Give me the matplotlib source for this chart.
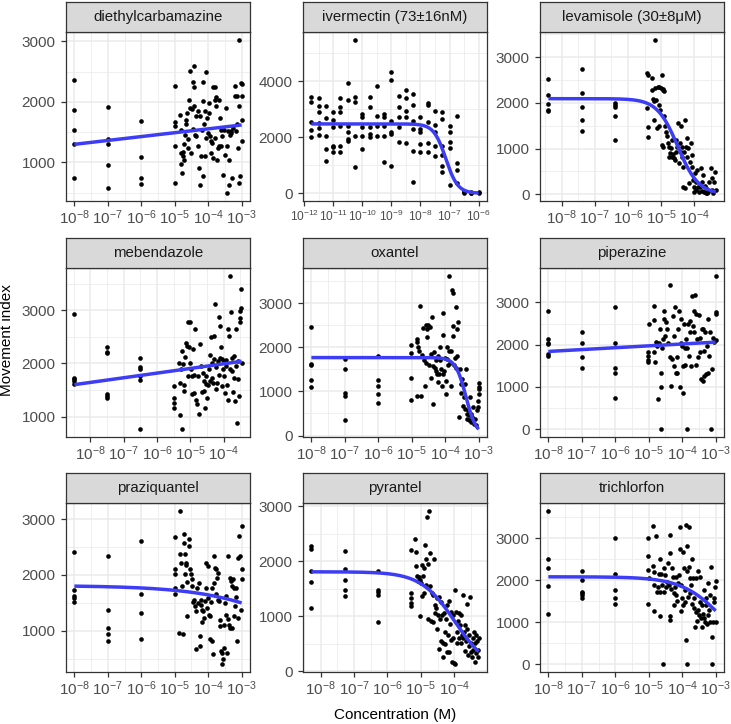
"""Dose-response facets: movement index vs concentration, nine drugs."""

import numpy as np
import matplotlib
matplotlib.use("Agg")
import matplotlib.pyplot as plt

plt.rcParams["font.family"] = ["Liberation Sans", "DejaVu Sans"]
plt.rcParams["mathtext.fontset"] = "custom"
plt.rcParams["mathtext.rm"] = "Liberation Sans"
plt.rcParams["mathtext.it"] = "Liberation Sans:italic"
plt.rcParams["mathtext.bf"] = "Liberation Sans:bold"

# ── Theme ──────────────────────────────────────────────────────────────────────
BORDER = "#333333"
GRID   = "#EBEBEB"
STRIP  = "#D9D9D9"
TICK   = "#4D4D4D"
FIT    = "#3D3DF5"

# ── Data (x = log10 concentration in M, y = movement index) ───────────────────
dec_x = ([-8] * 5 + [-7] * 5 + [-6] * 4 + [-5] * 5 + [
    -4.83, -4.81, -4.81, -4.81, -4.79, -4.76, -4.75, -4.73, -4.71, -4.69,
    -4.65, -4.65, -4.63, -4.61, -4.59, -4.56, -4.55, -4.53, -4.51, -4.49,
    -4.46, -4.45, -4.43, -4.43, -4.41, -4.39, -4.37, -4.36, -4.31, -4.29,
    -4.26, -4.24, -4.23, -4.21, -4.19, -4.16, -4.16, -4.15, -4.13, -4.11,
    -4.09, -4.07, -4.06, -4.05, -4.01, -3.99, -3.97, -3.96, -3.93, -3.91,
    -3.88, -3.86, -3.85, -3.81, -3.81, -3.79, -3.77, -3.76, -3.73, -3.71,
    -3.69, -3.67, -3.66, -3.63, -3.61, -3.58, -3.57, -3.53, -3.51, -3.47,
    -3.45, -3.43, -3.41, -3.39, -3.37, -3.35, -3.33, -3.31, -3.29, -3.26,
    -3.21, -3.19, -3.17, -3.15, -3.13, -3.11, -3.09, -3.09, -3.07, -3.05,
    -3.01, -3.00, -3.00, -3.00, -3.00])
dec_y = [2360, 1860, 1530, 1300, 750, 1910, 1380, 1310, 950, 570,
         1690, 1090, 740, 640, 2260, 1670, 1610, 1270, 660,
         1780, 1530, 1160, 980, 820, 1170, 1100, 1040, 1310, 1460,
         1700, 1640, 1820, 1380, 1240, 2040, 1900, 2510, 1160, 1880,
         1550, 2330, 2600, 2240, 1940, 1460, 1770, 1440, 1850, 1270,
         910, 630, 1770, 1110, 1530, 2330, 2010, 770, 1630, 1850,
         1110, 1400, 2500, 1740, 1490, 1820, 1990, 1430, 1160, 1350,
         1320, 1070, 2250, 2240, 2040, 1400, 2090, 1930, 1040, 1240,
         2040, 1270, 1740, 1540, 1270, 1430, 800, 1540, 1130, 1900,
         490, 1270, 1520, 1040, 630, 1460, 1490, 1520, 740, 1570,
         2260, 2100, 1520, 2100, 1630, 1240, 660, 3030, 1940, 770,
         2320, 2290, 2100, 1700, 1360]

ivm_x = ([-11.75] * 5 + [-11.5] * 6 + [-11.25] * 5 + [-11.0] * 6 + [-10.75] * 6
         + [-10.5] * 6 + [-10.25] * 5 + [-10.0] * 5 + [-9.75] * 5 + [-9.5] * 4
         + [-9.25] * 5 + [-9.0] * 6 + [-8.75] * 5 + [-8.5] * 5 + [-8.25] * 6
         + [-8.0] * 5 + [-7.75] * 5 + [-7.5] * 5 + [-7.25] * 6 + [-7.0] * 5
         + [-6.75] * 4 + [-6.5] * 3 + [-6.25] * 3 + [-6.0] * 2)
ivm_y = [3450, 3260, 2560, 2260, 2000,
         3420, 3130, 2920, 2500, 2320, 2090,
         3130, 2680, 2060, 1580, 1170,
         2920, 2620, 2380, 1700, 1640, 1460,
         3420, 3070, 2920, 2420, 1700, 1460,
         3940, 3340, 2420, 2180, 1940, 1880,
         5490, 3430, 3280, 2060, 930,
         2830, 2710, 2360, 2060, 1580,
         3430, 3070, 2360, 2120, 2000,
         3820, 2750, 2420, 2060,
         2830, 2710, 2420, 2060, 1130,
         4340, 4060, 2590, 2200, 2120, 990,
         3460, 3070, 2710, 2360, 1850,
         3700, 3390, 2950, 2710, 1800,
         3550, 3150, 2590, 2300, 1520, 390,
         2740, 2300, 2180, 1760, 1460,
         3230, 3150, 2560, 1800, 1460,
         2940, 2440, 2180, 1700, 1350,
         2890, 2650, 1700, 1370, 960, 770,
         2390, 2200, 1820, 1610, 300,
         2770, 1080, 850, 370,
         100, 40, 10,
         40, 10, 0,
         60, 10]

lev_x = ([-8.4] * 5 + [-7.4] * 5 + [-6.4] * 5 + [
    -5.43, -5.41, -5.43, -5.41, -5.41, -5.28, -5.28, -5.26, -5.23, -5.21,
    -5.18, -5.18, -5.16, -5.14, -5.11, -5.08, -5.06, -5.06, -5.04, -5.01,
    -4.98, -4.96, -4.94, -4.91, -4.91, -4.88, -4.86, -4.84, -4.98, -4.94,
    -4.81, -4.78, -4.76, -4.74, -4.71, -4.68, -4.66, -4.64, -4.61, -4.58,
    -4.56, -4.54, -4.51, -4.49, -4.46, -4.44, -4.41, -4.39, -4.38, -4.36,
    -4.34, -4.32, -4.29, -4.34, -4.28, -4.24, -4.22, -4.21, -4.18, -4.16,
    -4.14, -4.11, -4.08, -4.06, -4.04, -4.01, -4.00, -3.98, -3.96, -3.94,
    -3.91, -3.89, -3.86, -3.84, -3.81, -3.78, -3.76, -3.74, -3.71, -3.68,
    -3.66, -3.64, -3.61, -3.58, -3.56, -3.51, -3.48, -3.46, -3.44, -3.41,
    -3.38, -3.36])
lev_y = [2510, 2170, 1970, 1850, 1810, 2740, 2220, 1910, 1630, 1390,
         2000, 1960, 1910, 1720, 1180,
         2650, 2600, 1890, 1470, 1260, 2550, 2290, 2090, 1620, 2040,
         3380, 2330, 2070, 1450, 2350, 2350, 1960, 1500, 1850, 2330,
         2600, 2310, 2290, 2260, 1720, 1490, 1370, 1280, 1080, 1040,
         1120, 1040, 820, 900, 1010, 1190, 820, 880, 790, 750,
         930, 1190, 1040, 1560, 680, 1120, 930, 1490, 820, 1040,
         600, 930, 1620, 160, 130, 1040, 820, 1230, 1010, 240,
         710, 1120, 860, 600, 310, 160, 50, 460, 270, 90,
         530, 160, 50, 160, 570, 270, 70, 420, 50, 180,
         20, 130, 30, 50, 270, 570, 90, 350, 20, 270,
         490, 90]

meb_x = ([-8.48] * 5 + [-7.5] * 6 + [-6.5] * 6 + [
    -5.50, -5.50, -5.50, -5.50, -5.35, -5.32, -5.30, -5.28, -5.25, -5.25,
    -5.22, -5.20, -5.18, -5.15, -5.12, -5.10, -5.08, -5.06, -5.04, -5.02,
    -5.00, -4.98, -4.95, -4.94, -4.92, -4.90, -4.88, -4.85, -4.84, -4.80,
    -4.76, -4.74, -4.70, -4.68, -4.66, -4.62, -4.60, -4.58, -4.56, -4.54,
    -4.52, -4.50, -4.48, -4.45, -4.42, -4.40, -4.38, -4.36, -4.34, -4.32,
    -4.30, -4.28, -4.26, -4.24, -4.22, -4.20, -4.18, -4.15, -4.14, -4.12,
    -4.10, -4.08, -4.06, -4.04, -4.02, -4.00, -3.98, -3.96, -3.94, -3.92,
    -3.90, -3.88, -3.86, -3.84, -3.82, -3.80, -3.78, -3.76, -3.74, -3.72,
    -3.70, -3.68, -3.65, -3.63, -3.62, -3.60, -3.58, -3.57, -3.55, -3.52,
    -3.50, -3.50, -3.48, -3.48, -3.46])
meb_y = [2930, 1730, 1700, 1670, 1620, 2310, 2220, 2190, 1430, 1380, 1350,
         2100, 1940, 1890, 1760, 1690, 770,
         1570, 1350, 1260, 1160, 2010, 1640, 1020, 1890, 2230, 760,
         1980, 1600, 1490, 2120, 2390, 2330, 1760, 2780, 2310, 2010,
         2780, 1890, 1760, 1420, 2280, 1790, 1450, 2650, 1320, 1230,
         1760, 1040, 2360, 1950, 1460, 1820, 1480, 1670, 1160, 1620,
         1760, 1350, 1590, 1890, 1670, 2150, 2500, 1730, 2010, 1640,
         2520, 2090, 3110, 1510, 1940, 1640, 2040, 2880, 1790, 2110,
         2700, 2300, 2080, 1570, 1890, 1760, 2040, 1450, 1950, 2060,
         1600, 2640, 1320, 2520, 1890, 3650, 2960, 2110, 1860, 1460,
         2140, 1730, 1290, 1950, 2640, 880, 2040, 1700, 1380, 2990,
         2860, 2770, 3040, 3400, 2010]

oxa_x = ([-8] * 5 + [-7] * 5 + [-6] * 5 + [
    -5.01, -5.01, -5.01, -5.01, -4.85, -4.83, -4.83, -4.81, -4.78, -4.75,
    -4.73, -4.68, -4.65, -4.63, -4.61, -4.58, -4.57, -4.55, -4.53, -4.51,
    -4.48, -4.45, -4.43, -4.41, -4.38, -4.37, -4.35, -4.33, -4.31, -4.28,
    -4.26, -4.24, -4.22, -4.20, -4.19, -4.16, -4.14, -4.12, -4.10, -4.08,
    -4.08, -4.06, -4.04, -4.02, -3.99, -3.98, -3.96, -3.94, -3.92, -3.89,
    -3.88, -3.86, -3.84, -3.82, -3.79, -3.78, -3.77, -3.76, -3.74, -3.71,
    -3.69, -3.67, -3.66, -3.64, -3.62, -3.59, -3.57, -3.54, -3.52, -3.49,
    -3.46, -3.44, -3.42, -3.40, -3.39, -3.36, -3.34, -3.32, -3.30, -3.28,
    -3.26, -3.24, -3.22, -3.19, -3.16, -3.14, -3.12, -3.09, -3.05, -3.03,
    -3.01, -3.00, -3.00, -3.00, -3.00])
oxa_y = [2470, 1630, 1610, 1250, 1100, 1740, 1500, 960, 900, 360,
         1810, 1250, 1130, 940, 730,
         2060, 1870, 1300, 810, 2200, 2120, 900, 2020, 1910, 2950,
         900, 1830, 2440, 1720, 1130, 2500, 1650, 2240, 2430, 2500,
         1610, 2470, 1310, 1850, 2690, 720, 1570, 1890, 1540, 1720,
         1460, 1400, 1800, 1220, 1390, 2000, 1720, 1500, 1130, 2780,
         2290, 1390, 1460, 1770, 1240, 940, 2000, 1740, 1610, 1910,
         3630, 1650, 1130, 1910, 3310, 3230, 2260, 2490, 1610, 1770,
         2930, 1540, 1800, 2430, 2580, 420, 1500, 1160, 960, 1280,
         680, 870, 610, 1160, 1500, 490, 380, 570, 460, 350,
         870, 490, 310, 420, 640, 270, 380, 230, 570, 640,
         790, 1200, 1100, 1050, 940]

pip_x = ([-8] * 6 + [-7] * 4 + [-6] * 5 + [
    -5.02, -5.02, -5.02, -5.02, -5.00, -4.85, -4.83, -4.83, -4.81, -4.78,
    -4.75, -4.73, -4.68, -4.65, -4.63, -4.63, -4.63, -4.61, -4.58, -4.55,
    -4.53, -4.51, -4.48, -4.45, -4.43, -4.37, -4.35, -4.33, -4.31, -4.28,
    -4.25, -4.23, -4.21, -4.18, -4.16, -4.14, -4.12, -4.10, -4.08, -4.05,
    -4.03, -4.00, -3.98, -3.97, -3.95, -3.93, -3.91, -3.89, -3.87, -3.86,
    -3.84, -3.81, -3.78, -3.76, -3.74, -3.71, -3.68, -3.66, -3.64, -3.61,
    -3.60, -3.58, -3.56, -3.54, -3.51, -3.48, -3.46, -3.44, -3.41, -3.39,
    -3.38, -3.36, -3.34, -3.31, -3.29, -3.26, -3.24, -3.22, -3.20, -3.16,
    -3.14, -3.11, -3.08, -3.04, -3.00, -3.00, -3.00, -3.00])
pip_y = [2790, 2130, 2050, 2010, 1780, 1740, 2310, 2050, 1720, 1440,
         2900, 2050, 1440, 1330, 730,
         1820, 1740, 1640, 1580, 2490, 2920, 2590, 1820, 1580, 2070,
         1970, 710, 2050, 2380, 1340, 1010, 0, 1930, 2130, 2800,
         2610, 2210, 2540, 2370, 2050, 1700, 3410, 1030, 1660, 2670,
         1500, 2210, 2880, 1340, 1720, 1340, 2370, 2800, 1010, 2610,
         2050, 1970, 1500, 850, 2490, 1520, 1930, 2130, 0, 1930,
         2490, 1740, 2570, 2290, 1500, 3160, 2450, 2800, 2290, 3170,
         1520, 2720, 2130, 1700, 2700, 2150, 1820, 1180, 2370, 1150,
         2370, 1260, 1860, 2310, 1300, 1970, 2610, 1340, 1740, 2290,
         0, 1420, 2150, 2070, 3630, 2780, 2720, 2120]

pra_x = ([-8] * 5 + [-7] * 5 + [-6] * 4 + [
    -5.00, -5.00, -5.00, -5.00, -5.00, -4.87, -4.84, -4.84, -4.81, -4.79,
    -4.76, -4.73, -4.71, -4.69, -4.69, -4.67, -4.66, -4.64, -4.62, -4.57,
    -4.56, -4.54, -4.52, -4.48, -4.47, -4.44, -4.42, -4.40, -4.36, -4.35,
    -4.32, -4.30, -4.27, -4.25, -4.24, -4.22, -4.20, -4.18, -4.17, -4.14,
    -4.12, -4.10, -4.08, -4.06, -4.04, -4.02, -4.00, -3.98, -3.96, -3.94,
    -3.92, -3.90, -3.88, -3.86, -3.84, -3.82, -3.80, -3.78, -3.76, -3.74,
    -3.72, -3.70, -3.68, -3.66, -3.64, -3.62, -3.60, -3.58, -3.56, -3.54,
    -3.52, -3.50, -3.48, -3.46, -3.44, -3.42, -3.40, -3.38, -3.36, -3.34,
    -3.32, -3.30, -3.28, -3.26, -3.24, -3.22, -3.20, -3.18, -3.16, -3.14,
    -3.12, -3.10, -3.08, -3.06, -3.02, -3.00, -3.00, -3.00])
pra_y = [2410, 1730, 1620, 1580, 1520, 2340, 1370, 1050, 950, 810,
         2600, 1650, 1320, 860,
         2670, 2110, 2010, 1770, 1650, 960, 3150, 2370, 2220, 1810,
         950, 2730, 2580, 2370, 2010, 2210, 2170, 1260, 1870, 2510,
         2650, 2100, 2010, 1930, 1810, 1520, 1560, 1440, 1350, 670,
         1770, 1500, 1860, 900, 730, 1470, 1560, 1380, 1160, 1350,
         1230, 1530, 1770, 2220, 1410, 1580, 2160, 1290, 860, 1260,
         1520, 1770, 810, 580, 2340, 1860, 2130, 1650, 2100, 1950,
         1560, 2030, 1530, 1200, 1080, 640, 400, 610, 500, 700,
         1110, 1500, 1620, 1290, 610, 1220, 2340, 1110, 1050, 1950,
         1890, 1800, 1050, 1920, 1770, 1260, 1440, 1610, 1770, 810,
         2310, 1230, 2690, 2330, 1380, 2880, 2100, 1930]

pyr_x = ([-8.28] * 5 + [-7.28] * 5 + [-6.28] * 5 + [
    -5.29, -5.29, -5.29, -5.29, -5.29, -5.17, -5.14, -5.14, -5.12, -5.10,
    -5.07, -5.04, -5.02, -5.00, -4.97, -4.96, -4.94, -4.92, -4.90, -4.87,
    -4.86, -4.84, -4.82, -4.80, -4.78, -4.76, -4.74, -4.72, -4.70, -4.67,
    -4.65, -4.63, -4.61, -4.59, -4.57, -4.55, -4.53, -4.51, -4.49, -4.47,
    -4.45, -4.43, -4.41, -4.39, -4.37, -4.35, -4.33, -4.31, -4.29, -4.27,
    -4.25, -4.23, -4.21, -4.19, -4.17, -4.15, -4.13, -4.11, -4.09, -4.07,
    -4.05, -4.03, -4.01, -3.99, -3.97, -3.95, -3.93, -3.91, -3.89, -3.87,
    -3.85, -3.83, -3.81, -3.79, -3.77, -3.75, -3.73, -3.71, -3.69, -3.67,
    -3.65, -3.63, -3.61, -3.59, -3.57, -3.55, -3.53, -3.51, -3.49, -3.47,
    -3.45, -3.43, -3.41, -3.39, -3.37, -3.35, -3.34, -3.32, -3.30, -3.28,
    -3.27])
pyr_y = [2280, 2220, 1820, 1630, 1160, 2180, 1860, 1660, 1480, 1370,
         1820, 1480, 1450, 1390, 900,
         2200, 1420, 1330, 1250, 1190, 2400, 2170, 1920, 1740, 1640,
         1720, 1010, 1660, 1610, 1930, 1370, 1740, 1420, 1880, 2300,
         1570, 2050, 2800, 1960, 960, 2920, 2160, 1550, 920, 1420,
         890, 1390, 2050, 1210, 1070, 1150, 1330, 780, 1020, 1360,
         410, 960, 1270, 550, 1020, 510, 270, 1070, 720, 490,
         960, 360, 1210, 660, 1280, 360, 870, 1080, 570, 170,
         1020, 600, 150, 1480, 130, 1080, 720, 510, 920, 1070,
         600, 840, 510, 1020, 660, 600, 1390, 720, 370, 840,
         550, 1220, 780, 300, 470, 660, 1360, 350, 510, 270,
         390, 610, 720, 180, 510, 330, 660, 550, 390, 270,
         600]

tri_x = ([-8] * 5 + [-7] * 6 + [-6] * 5 + [
    -5.02, -5.02, -5.02, -5.02, -5.00, -4.87, -4.87, -4.85, -4.85, -4.83,
    -4.77, -4.75, -4.73, -4.70, -4.67, -4.65, -4.65, -4.63, -4.60, -4.57,
    -4.55, -4.53, -4.50, -4.47, -4.45, -4.43, -4.40, -4.37, -4.37, -4.35,
    -4.35, -4.33, -4.30, -4.27, -4.25, -4.23, -4.21, -4.19, -4.17, -4.15,
    -4.13, -4.10, -4.08, -4.07, -4.05, -4.03, -4.01, -3.99, -3.97, -3.95,
    -3.93, -3.91, -3.89, -3.88, -3.87, -3.87, -3.85, -3.83, -3.81, -3.80,
    -3.78, -3.76, -3.74, -3.72, -3.70, -3.68, -3.66, -3.64, -3.62, -3.60,
    -3.58, -3.56, -3.54, -3.52, -3.50, -3.48, -3.46, -3.44, -3.42, -3.40,
    -3.38, -3.36, -3.34, -3.32, -3.30, -3.28, -3.26, -3.24, -3.22, -3.20,
    -3.18, -3.16, -3.14, -3.12, -3.10, -3.08, -3.06, -3.04, -3.02, -3.00,
    -3.00])
tri_y = [3660, 2520, 2300, 1870, 1200, 2230, 2020, 1730, 1690, 1640, 1590,
         3020, 2140, 1770, 1570, 1440,
         3020, 2590, 2250, 1430, 2050, 3300, 2350, 2210, 1270, 1900,
         3060, 1730, 1850, 2140, 2520, 1140, 1730, 2140, 1890, 0,
         2290, 1730, 2130, 1850, 1950, 2410, 1900, 3090, 1160, 2640,
         1060, 1790, 2300, 2090, 1410, 1710, 1850, 1650, 2090, 1510,
         1930, 2130, 3280, 2750, 1270, 1900, 1590, 2670, 1410, 2290,
         1490, 1770, 3330, 580, 2830, 0, 2220, 1610, 3280, 2330,
         2050, 1690, 1900, 1430, 2520, 2050, 1330, 1570, 900, 1250,
         2050, 1030, 1290, 2220, 1180, 2090, 1490, 1100, 900, 1410,
         1210, 1770, 1100, 1020, 1570, 1410, 950, 1180, 1930, 1290,
         1000, 1650, 2330, 660, 0, 1000, 1490, 1570, 1850, 1980,
         1000]

# fitted curves: ("lin", intercept, slope) or ("ll", top, log10 EC50, hill)
dec_fit = ("lin", 1812, 64)
ivm_fit = ("ll", 2480, -7.13, 2.1)
lev_fit = ("ll", 2090, -4.50, 1.4)
meb_fit = ("lin", 2343, 87.6)
oxa_fit = ("ll", 1770, -3.38, 2.8)
pip_fit = ("lin", 2192, 44)
pra_fit = ("ll", 1810, -0.80, 0.31)
pyr_fit = ("ll", 1810, -3.98, 0.85)
tri_fit = ("ll", 2085, -2.72, 0.70)

PANELS = [
    ("diethylcarbamazine", dec_x, dec_y, dec_fit, 1000),
    ("ivermectin (73±16nM)", ivm_x, ivm_y, ivm_fit, 2000),
    ("levamisole (30±8μM)", lev_x, lev_y, lev_fit, 1000),
    ("mebendazole", meb_x, meb_y, meb_fit, 1000),
    ("oxantel", oxa_x, oxa_y, oxa_fit, 1000),
    ("piperazine", pip_x, pip_y, pip_fit, 1000),
    ("praziquantel", pra_x, pra_y, pra_fit, 1000),
    ("pyrantel", pyr_x, pyr_y, pyr_fit, 1000),
    ("trichlorfon", tri_x, tri_y, tri_fit, 1000),
]

# ── Layout (pixels) ───────────────────────────────────────────────────────────
W, H = 731, 724
COL_LEFT = [66, 303, 540]
ROW_TOP  = [32, 268, 503]
PANEL_W, PANEL_H, STRIP_H = 184, 169, 30


def curve(fit, xs):
    if fit[0] == "lin":
        return fit[1] + fit[2] * xs
    _, top, ec50, hill = fit
    return top / (1 + 10 ** (hill * (xs - ec50)))


fig = plt.figure(figsize=(W / 100, H / 100), dpi=100)
fig.patch.set_facecolor("white")

for i, (title, xs, ys, fit, ystep) in enumerate(PANELS):
    r, c = divmod(i, 3)
    left = COL_LEFT[c] / W
    bottom = 1 - (ROW_TOP[r] + PANEL_H) / H
    ax = fig.add_axes([left, bottom, PANEL_W / W, PANEL_H / H])
    ax.scatter(xs, ys, s=11, color="black", linewidths=0, zorder=3)
    xx = np.linspace(min(xs), max(xs), 300)
    ax.plot(xx, curve(fit, xx), color=FIT, lw=2.5, zorder=4,
            solid_capstyle="butt")
    ax.margins(0.05)
    x0, x1 = ax.get_xlim()
    y0, y1 = ax.get_ylim()

    xmaj = [d for d in range(-13, 0) if x0 <= d <= x1]
    xmin = [d + 0.5 for d in range(-13, 0) if x0 <= d + 0.5 <= x1]
    ymaj = [v for v in range(0, 7000, ystep) if y0 <= v <= y1]
    ymin = [v + ystep / 2 for v in range(0, 7000, ystep) if y0 <= v + ystep / 2 <= y1]
    ax.set_xticks(xmaj)
    ax.set_xticklabels([r"$\mathregular{10^{%d}}$" % d for d in xmaj])
    ax.set_xticks(xmin, minor=True)
    ax.set_yticks(ymaj)
    ax.set_yticklabels([str(v) for v in ymaj])
    ax.set_yticks(ymin, minor=True)
    ax.set_xlim(x0, x1)
    ax.set_ylim(y0, y1)

    ax.set_axisbelow(True)
    ax.grid(which="major", color=GRID, lw=1.1)
    ax.grid(which="minor", color=GRID, lw=0.55)
    ax.tick_params(which="major", direction="out", length=3.5, width=0.9,
                   color=BORDER, labelcolor=TICK, labelsize=11)
    ax.tick_params(axis="y", pad=4)
    # ivermectin spans seven decades, so its labels are set a little smaller
    ax.tick_params(axis="x", pad=2,
                   labelsize=8.6 if len(xmaj) > 6 else 11)
    ax.tick_params(which="minor", length=0)
    for s in ax.spines.values():
        s.set_color(BORDER)
        s.set_linewidth(0.9)

    # facet strip
    sax = fig.add_axes([left, 1 - ROW_TOP[r] / H, PANEL_W / W, STRIP_H / H])
    sax.set_facecolor(STRIP)
    sax.set_xticks([])
    sax.set_yticks([])
    for s in sax.spines.values():
        s.set_color(BORDER)
        s.set_linewidth(0.9)
    sax.text(0.5, 0.5, title, ha="center", va="center", fontsize=10.8,
             color="#1A1A1A", transform=sax.transAxes)

fig.text(7 / W, 1 - 340 / H, "Movement index", rotation=90, ha="center",
         va="center", fontsize=11, color="black")
fig.text(395 / W, 1 - 715 / H, "Concentration (M)", ha="center",
         va="center", fontsize=11, color="black")

plt.savefig("out.png", dpi=100, facecolor="white")
plt.close(fig)
